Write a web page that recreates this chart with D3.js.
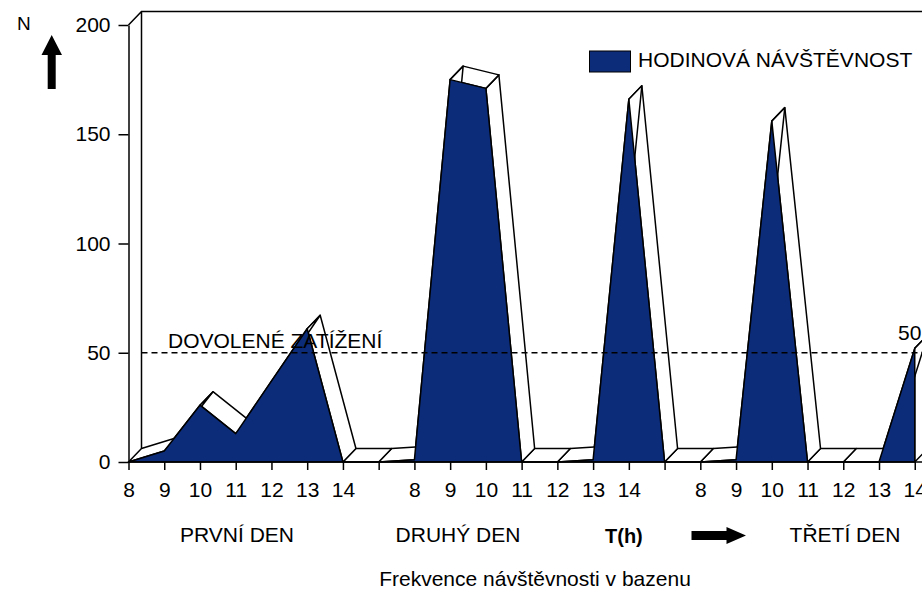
<!DOCTYPE html>
<html>
<head>
<meta charset="utf-8">
<script src="https://cdn.jsdelivr.net/npm/d3@7"></script>
<style>
  body { margin: 0; background: #fff; }
  text { font-family: 'Liberation Sans', Arial, sans-serif; }
</style>
</head>
<body>
<div id="chart"></div>
<script>
const hourLabels = ['8', '9', '10', '11', '12', '13', '14', '',
  '8', '9', '10', '11', '12', '13', '14', '',
  '8', '9', '10', '11', '12', '13', '14']
const visits = [0, 5, 26, 13, 37, 61, 0, 0,
  1, 175, 171, 0, 0, 1, 166, 0,
  0, 1, 156, 0, 0, 0, 52]
const yTicks = [0, 50, 100, 150, 200]
const allowedLoad = 50
const dayNames = ['PRVNÍ DEN', 'DRUHÝ DEN', 'TŘETÍ DEN']
const seriesName = 'HODINOVÁ NÁVŠTĚVNOST'
const loadName = 'DOVOLENÉ ZATÍŽENÍ'
const axisTitle = 'Frekvence návštěvnosti v bazenu'

function renderArea3d(selector, svgWidth, svgHeight) {
  const blue = '#0c2c7a'
  const depth = {dx: 13, dy: -13.5}

  const svg = d3.select(selector).append('svg')
    .attr('width', svgWidth)
    .attr('height', svgHeight)
    .attr('viewBox', '0 0 ' + svgWidth + ' ' + svgHeight)

  const x = d3.scalePoint()
    .domain(d3.range(visits.length))
    .range([128.5, 914.75])
  const y = d3.scaleLinear()
    .domain([0, 200])
    .range([462, 25])

  // back wall
  const wallX = x(0) + depth.dx
  const wallTop = y(200) + depth.dy
  svg.append('path')
    .attr('d', 'M' + x(0) + ',' + y(200) + 'L' + wallX + ',' + wallTop +
      'L' + svgWidth + ',' + wallTop +
      'M' + wallX + ',' + wallTop + 'L' + wallX + ',' + (y(0) + depth.dy))
    .attr('fill', 'none')
    .attr('stroke', '#000')
    .attr('stroke-width', 1.5)

  const pts = visits.map((v, i) => [x(i), y(v)])
  const shift = p => [p[0] + depth.dx, p[1] + depth.dy]
  const poly = d3.line()

  // top and side faces, right to left
  const faces = []
  const last = pts[pts.length - 1]
  faces.push([last, [last[0], y(0)], shift([last[0], y(0)]), shift(last)])
  for (let i = pts.length - 2; i >= 0; i--) {
    faces.push([pts[i], pts[i + 1], shift(pts[i + 1]), shift(pts[i])])
  }

  svg.append('g').selectAll('path')
    .data(faces)
    .enter().append('path')
    .attr('d', d => poly(d) + 'Z')
    .attr('fill', '#fff')
    .attr('stroke', '#000')
    .attr('stroke-width', 1.5)
    .attr('stroke-linejoin', 'round')

  const area = d3.area()
    .x((d, i) => x(i))
    .y0(y(0))
    .y1(d => y(d))

  svg.append('path')
    .datum(visits)
    .attr('fill', blue)
    .attr('stroke', '#000')
    .attr('stroke-width', 1.5)
    .attr('stroke-linejoin', 'round')
    .attr('d', area)

  const xAxis = d3.axisBottom(x)
    .tickSize(8)
    .tickSizeOuter(0)
    .tickPadding(12)
    .tickFormat(i => hourLabels[i])
  const yAxis = d3.axisLeft(y)
    .tickValues(yTicks)
    .tickSize(10)
    .tickSizeOuter(0)
    .tickPadding(8)

  const gx = svg.append('g')
    .attr('transform', 'translate(0,' + y(0) + ')')
    .call(xAxis)
  gx.select('.domain').attr('d', 'M' + x(0) + ',0H' + svgWidth)
  svg.append('g')
    .attr('transform', 'translate(' + x(0) + ',0)')
    .call(yAxis)

  svg.selectAll('.tick line, .domain')
    .attr('stroke', '#000')
    .attr('stroke-width', 1.5)
  svg.selectAll('.tick text')
    .attr('font-size', 21)
    .attr('font-family', 'Liberation Sans, Arial, sans-serif')
    .attr('fill', '#000')

  // allowed load
  svg.append('line')
    .attr('x1', wallX)
    .attr('x2', svgWidth)
    .attr('y1', y(allowedLoad))
    .attr('y2', y(allowedLoad))
    .attr('stroke', '#000')
    .attr('stroke-width', 1.3)
    .attr('stroke-dasharray', '6,4')

  svg.append('text')
    .attr('x', 168)
    .attr('y', 348)
    .attr('font-size', 21)
    .attr('fill', '#000')
    .text(loadName)

  svg.append('text')
    .attr('x', 898)
    .attr('y', 340)
    .attr('font-size', 21)
    .attr('fill', '#000')
    .text(allowedLoad)

  // legend
  svg.append('rect')
    .attr('x', 589.5)
    .attr('y', 51)
    .attr('width', 41)
    .attr('height', 21)
    .attr('fill', blue)
    .attr('stroke', '#000')
    .attr('stroke-width', 1)
  svg.append('text')
    .attr('x', 638)
    .attr('y', 67)
    .attr('font-size', 21)
    .attr('fill', '#000')
    .text(seriesName)

  // N with up arrow
  svg.append('text')
    .attr('x', 17)
    .attr('y', 30)
    .attr('font-size', 19)
    .attr('fill', '#000')
    .text('N')
  svg.append('path')
    .attr('d', 'M51.7,35L62,55H55.7V89H47.7V55H41.5Z')
    .attr('fill', '#000')

  // day labels
  const dayX = [237, 458, 845]
  svg.append('g').selectAll('text')
    .data(dayNames)
    .enter().append('text')
    .attr('x', (d, i) => dayX[i])
    .attr('y', 542)
    .attr('text-anchor', 'middle')
    .attr('font-size', 21)
    .attr('fill', '#000')
    .text(d => d)

  svg.append('text')
    .attr('x', 605)
    .attr('y', 543)
    .attr('font-size', 20)
    .attr('font-weight', 'bold')
    .attr('fill', '#000')
    .text('T(h)')
  svg.append('path')
    .attr('d', 'M691.5,531H726.5V527L746,535.5L726.5,544V540H691.5Z')
    .attr('fill', '#000')

  svg.append('text')
    .attr('x', 535)
    .attr('y', 586)
    .attr('text-anchor', 'middle')
    .attr('font-size', 21)
    .attr('fill', '#000')
    .text(axisTitle)
}

renderArea3d('#chart', 922, 595)
</script>
</body>
</html>
